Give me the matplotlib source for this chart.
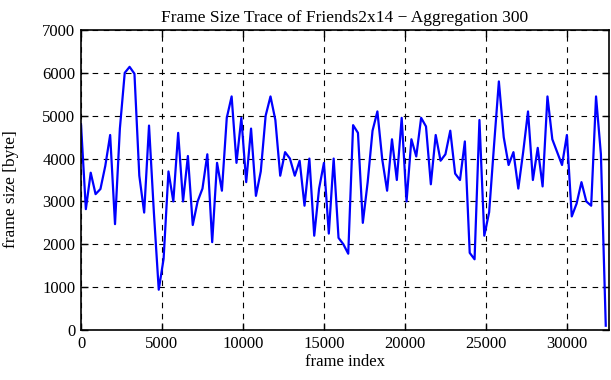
import matplotlib
matplotlib.use("Agg")
import matplotlib.pyplot as plt
import numpy as np

aggregation = 300
frame_size = [
    4800, 2820, 3670, 3170, 3290, 3830, 4550, 2470, 4700, 6000,
    6140, 5980, 3600, 2740, 4770, 2740, 940, 1660, 3700, 3000,
    4600, 3000, 4060, 2450, 3000, 3300, 4100, 2050, 3900, 3250,
    4950, 5450, 3900, 4950, 3450, 4700, 3130, 3700, 5000, 5450,
    4900, 3600, 4150, 4000, 3600, 3950, 2900, 4000, 2200, 3300,
    3900, 2250, 4000, 2150, 2000, 1780, 4780, 4600, 2500, 3450,
    4650, 5100, 3980, 3250, 4450, 3500, 4950, 3000, 4450, 4050,
    4950, 4750, 3400, 4550, 3950, 4100, 4650, 3650, 3500, 4400,
    1800, 1650, 4900, 2200, 2750, 4300, 5800, 4500, 3850, 4150,
    3300, 4150, 5100, 3500, 4250, 3350, 5450, 4450, 4150, 3850,
    4550, 2650, 2950, 3450, 3000, 2900, 5450, 4100, 100,
]
frame_index = np.arange(len(frame_size)) * aggregation

title = "Frame Size Trace of Friends2x14 \u2212 Aggregation 300"
xlabel = "frame index"
ylabel = "frame size [byte]"
xticks = [0, 5000, 10000, 15000, 20000, 25000, 30000]
yticks = [0, 1000, 2000, 3000, 4000, 5000, 6000, 7000]

plt.rcParams['font.family'] = ['Liberation Serif', 'DejaVu Serif']
plt.rcParams['font.size'] = 12

fig = plt.figure(figsize=(6.11, 3.8), dpi=100)
ax = fig.add_axes([81/611, 1-330/380, (609-81)/611, 300/380])
ax.plot(frame_index, frame_size, color='#0000ff', lw=1.6)
ax.set_xlim(0, 32600)
ax.set_ylim(0, 7000)
ax.set_xticks(xticks)
ax.set_yticks(yticks)
ax.grid(True, color='black', linestyle=(0, (5, 5)), linewidth=0.8)
ax.tick_params(direction='in', top=True, right=True, length=5, width=1, pad=4)
for s in ax.spines.values():
    s.set_linewidth(1.2)
ax.set_title(title, fontsize=12.5, pad=6)
ax.set_xlabel(xlabel, labelpad=2)
ax.set_ylabel(ylabel, fontsize=12.5)
ax.yaxis.set_label_coords(-0.118, 0.47)
fig.savefig("out.png", dpi=100)
